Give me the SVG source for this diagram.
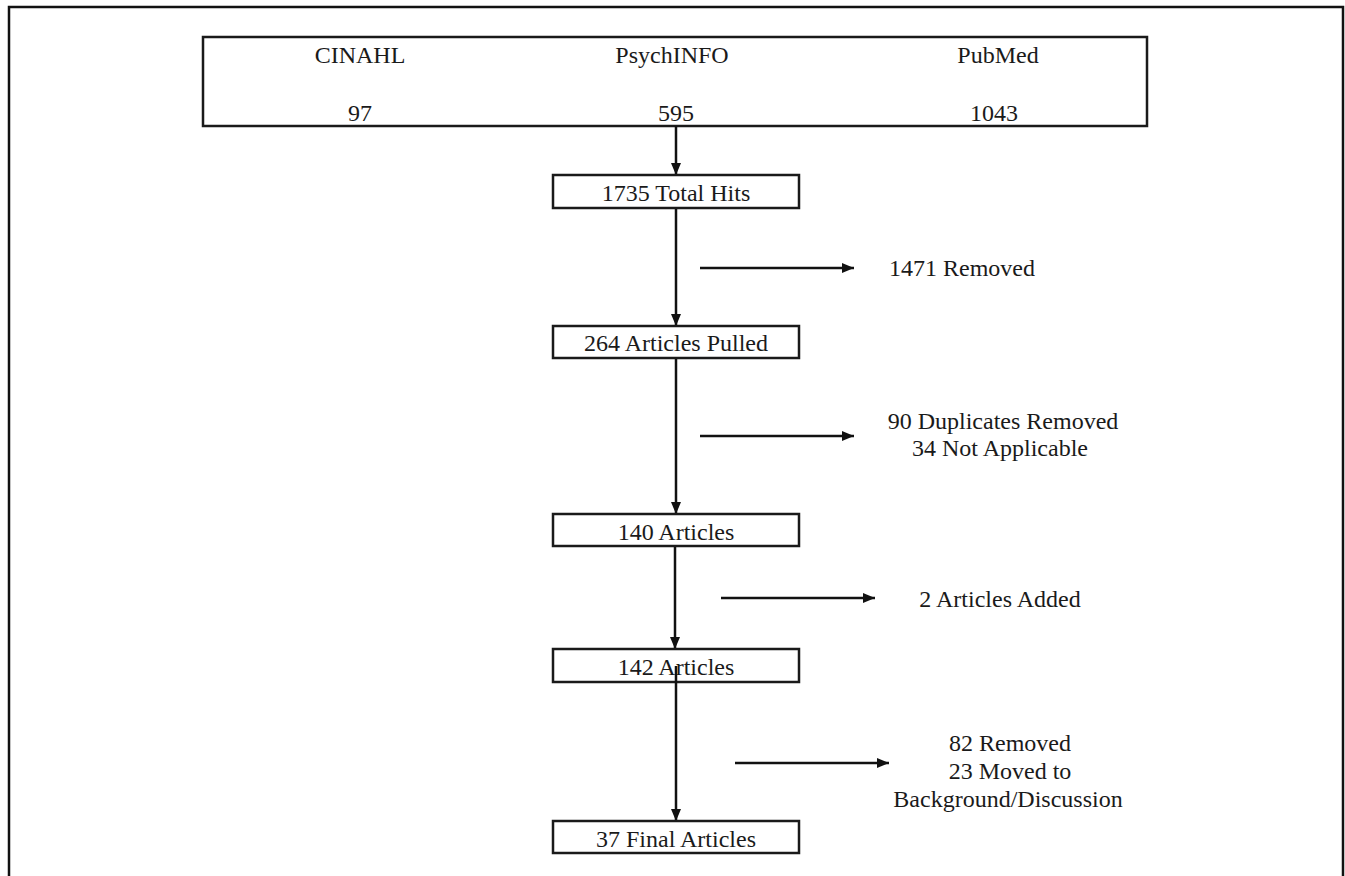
<svg xmlns="http://www.w3.org/2000/svg" width="1345" height="876" viewBox="0 0 1345 876">
<style>
.bx{fill:#fff;stroke:#1a1a1a;stroke-width:2.5}
.t{font-family:"Liberation Serif","Times New Roman",serif;font-size:24px;fill:#1a1a1a;text-anchor:middle}
.c{stroke:#111;stroke-width:2.5;fill:none}
</style>
<defs>
<marker id="ah" markerWidth="12" markerHeight="12" refX="12" refY="6" orient="auto" markerUnits="userSpaceOnUse">
<path d="M0,1 L12,6 L0,11 Z" fill="#111"/>
</marker>
</defs>
<rect width="1345" height="876" fill="#fff"/>
<path d="M9,876 V7 H1343 V876" fill="none" stroke="#111" stroke-width="2.5"/>
<g id="sources">
<rect class="bx" x="203" y="37" width="944" height="89"/>
<text class="t" x="360" y="63">CINAHL</text>
<text class="t" x="672" y="63">PsychINFO</text>
<text class="t" x="998" y="63">PubMed</text>
<text class="t" x="360" y="121">97</text>
<text class="t" x="676" y="121">595</text>
<text class="t" x="994" y="121">1043</text>
</g>
<g id="connectors">
<line class="c" x1="676" y1="126" x2="676" y2="175" marker-end="url(#ah)"/>
<line class="c" x1="676" y1="208" x2="676" y2="326" marker-end="url(#ah)"/>
<line class="c" x1="700" y1="268" x2="854" y2="268" marker-end="url(#ah)"/>
<line class="c" x1="676" y1="358" x2="676" y2="514" marker-end="url(#ah)"/>
<line class="c" x1="700" y1="436" x2="854" y2="436" marker-end="url(#ah)"/>
<line class="c" x1="675" y1="546" x2="675" y2="649" marker-end="url(#ah)"/>
<line class="c" x1="721" y1="598" x2="875" y2="598" marker-end="url(#ah)"/>
<line class="c" x1="735" y1="763" x2="889" y2="763" marker-end="url(#ah)"/>
</g>
<g id="total-hits">
<rect class="bx" x="553" y="175" width="246" height="33"/>
<text class="t" x="676" y="201">1735 Total Hits</text>
</g>
<g id="removed-1471">
<text class="t" x="962" y="276">1471 Removed</text>
</g>
<g id="pulled-264">
<rect class="bx" x="553" y="326" width="246" height="32"/>
<text class="t" x="676" y="351">264 Articles Pulled</text>
</g>
<g id="duplicates">
<text class="t" x="1003" y="429">90 Duplicates Removed</text>
<text class="t" x="1000" y="456">34 Not Applicable</text>
</g>
<g id="articles-140">
<rect class="bx" x="553" y="514" width="246" height="32"/>
<text class="t" x="676" y="540">140 Articles</text>
</g>
<g id="added-2">
<text class="t" x="1000" y="607">2 Articles Added</text>
</g>
<g id="articles-142">
<rect class="bx" x="553" y="649" width="246" height="33"/>
<text class="t" x="676" y="675">142 Articles</text>
</g>
<g id="connector-142-final">
<line class="c" x1="676" y1="666" x2="676" y2="821" marker-end="url(#ah)"/>
</g>
<g id="removed-82">
<text class="t" x="1010" y="751">82 Removed</text>
<text class="t" x="1010" y="779">23 Moved to</text>
<text class="t" x="1008" y="807">Background/Discussion</text>
</g>
<g id="final-37">
<rect class="bx" x="553" y="821" width="246" height="32"/>
<text class="t" x="676" y="847">37 Final Articles</text>
</g>
</svg>
